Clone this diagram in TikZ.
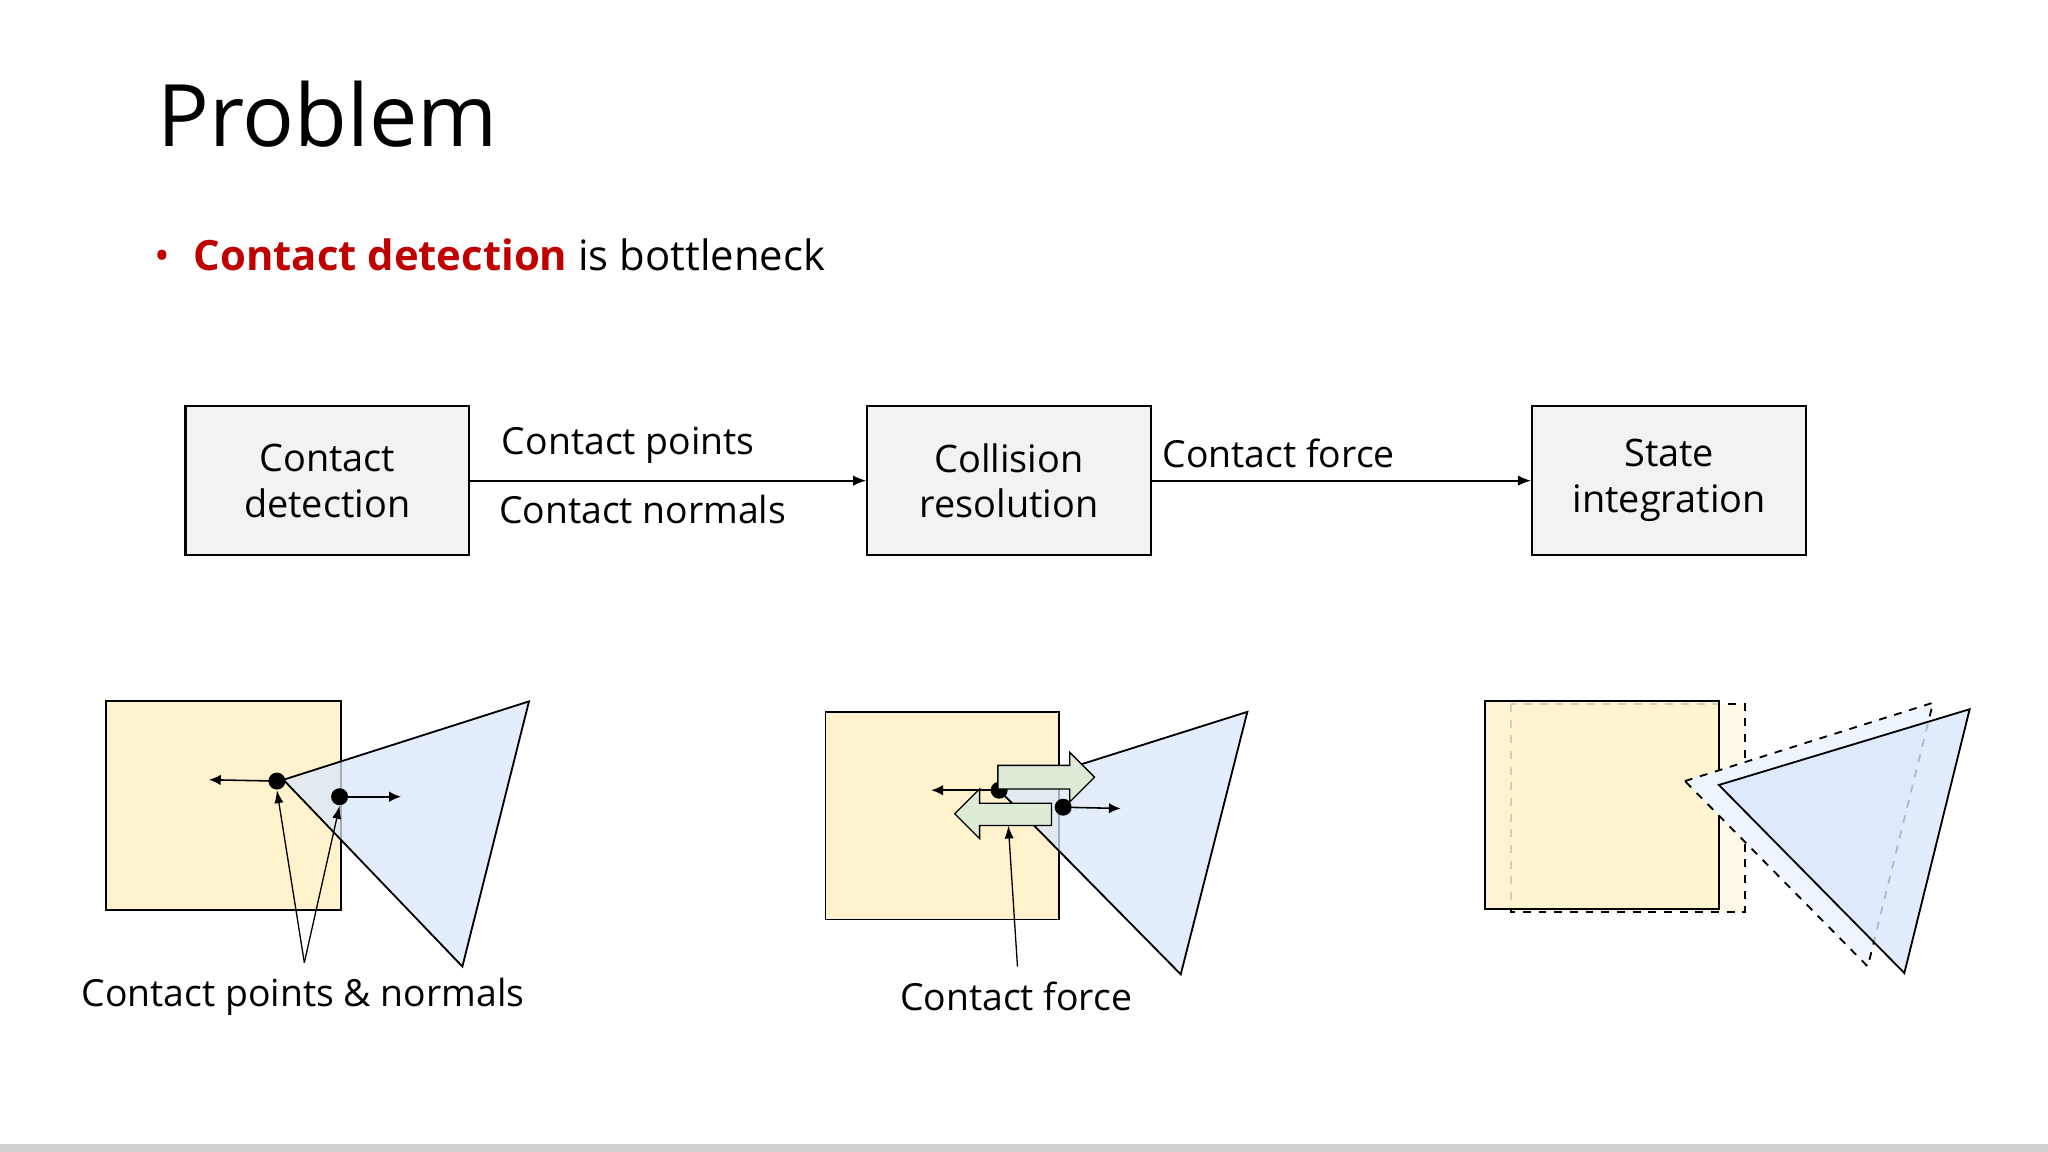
\documentclass[tikz,border=0pt]{standalone}
\usepackage{fontspec}
\setmainfont{Open Sans}
\usetikzlibrary{arrows.meta,shapes.arrows}
\definecolor{boxg}{HTML}{F2F2F2}
\definecolor{sqy}{HTML}{FFF2CC}
\definecolor{trib}{HTML}{DAE8FC}
\definecolor{grn}{HTML}{DDEBD6}
\definecolor{redt}{HTML}{C00000}
\tikzset{
  procbox/.style={draw=black,fill=boxg,line width=0.8pt,minimum width=108.5pt,minimum height=57pt,align=center,font=\fontsize{14.5}{17.5}\selectfont,inner sep=0pt},
  flow/.style={-{Latex[length=5pt,width=4pt]},line width=0.7pt},
  lbl/.style={font=\fontsize{14.3}{17}\selectfont,inner sep=0pt},
  sq/.style={draw=black,fill=sqy,line width=0.7pt},
  tri/.style={draw=black,fill=trib,fill opacity=0.75,line width=0.7pt},
  dot/.style={circle,fill=black,minimum size=6.5pt,inner sep=0pt},
  nrm/.style={-{Latex[length=4.5pt,width=4pt]},line width=0.6pt},
  ptr/.style={-{Latex[length=5pt,width=3.5pt]},line width=0.5pt},
  garrow/.style={draw=black,fill=grn,line width=0.5pt}
}
\begin{document}
\begin{tikzpicture}[x=0.5pt,y=-0.5pt]
\useasboundingbox (0,0) rectangle (1568,882);
\fill[white] (0,0) rectangle (1568,882);
\fill[black!18] (0,876) rectangle (1568,882);

\node[anchor=base west,inner sep=0pt,font=\fontsize{33}{40}\selectfont] (title) at (120,112) {Problem};
\node[anchor=base west,inner sep=0pt,font=\fontsize{16}{19}\selectfont] (bul) at (118,207) {\textcolor{redt}{\textbullet}\hspace{9pt}\textcolor{redt}{\textbf{Contact detection}} is bottleneck};

\node[procbox] (A) at (250.5,368) {Contact\\detection};
\node[procbox] (B) at (772.5,368) {Collision\\resolution};
\node[procbox,minimum width=105pt] (C) at (1278,368) {State\\integration};
\draw[flow] (A) -- (B);
\draw[flow] (B) -- (C);
\node[lbl] (l1) at (481,341) {Contact points};
\node[lbl] (l2) at (492,390) {Contact normals};
\node[lbl] (l3) at (979,347) {Contact force};

% figure 1
\draw[sq] (81,537) rectangle (261,697);
\draw[tri] (217,597) -- (405,537) -- (354,740) -- cycle;
\node[dot] (d1) at (212,598) {};
\node[dot] (d2) at (260,610) {};
\coordinate (n1) at (160,597);
\coordinate (n2) at (307,610);
\draw[nrm] (d1.center) -- (n1);
\draw[nrm] (d2.center) -- (n2);
\coordinate (p1) at (233,737);
\draw[ptr] (p1) -- (d1.south);
\draw[ptr] (p1) -- (d2.south);
\node[lbl] (f1) at (232,763) {Contact points \& normals};

% figure 2
\draw[sq] (632,545) rectangle (811,704);
\draw[tri] (765,605) -- (955,545) -- (904,746) -- cycle;
\node[dot] (d3) at (765,605) {};
\node[dot] (d4) at (814,618) {};
\coordinate (n3) at (713,605);
\coordinate (n4) at (858,619);
\draw[nrm] (d3.center) -- (n3);
\draw[nrm] (d4.center) -- (n4);
\draw[garrow] (764,586) -- (819,586) -- (819,576) -- (838,595) -- (819,614) -- (819,604) -- (764,604) -- cycle;
\draw[garrow] (805,615) -- (750,615) -- (750,604) -- (731,623) -- (750,642) -- (750,632) -- (805,632) -- cycle;
\coordinate (p2) at (779,740);
\coordinate (g2) at (772,632);
\draw[ptr] (p2) -- (g2);
\node[lbl] (f2) at (778,763) {Contact force};

% figure 3
\draw[dashed,fill=sqy!45,line width=0.7pt] (1157,539) rectangle (1336,698);
\draw[sq,fill opacity=0.85] (1137,537) rectangle (1316,696);
\draw[dashed,fill=trib!45,line width=0.7pt] (1290,598) -- (1480,538) -- (1430,740) -- cycle;
\draw[tri,fill opacity=0.8] (1316,601) -- (1508,543) -- (1458,745) -- cycle;
\end{tikzpicture}
\end{document}
